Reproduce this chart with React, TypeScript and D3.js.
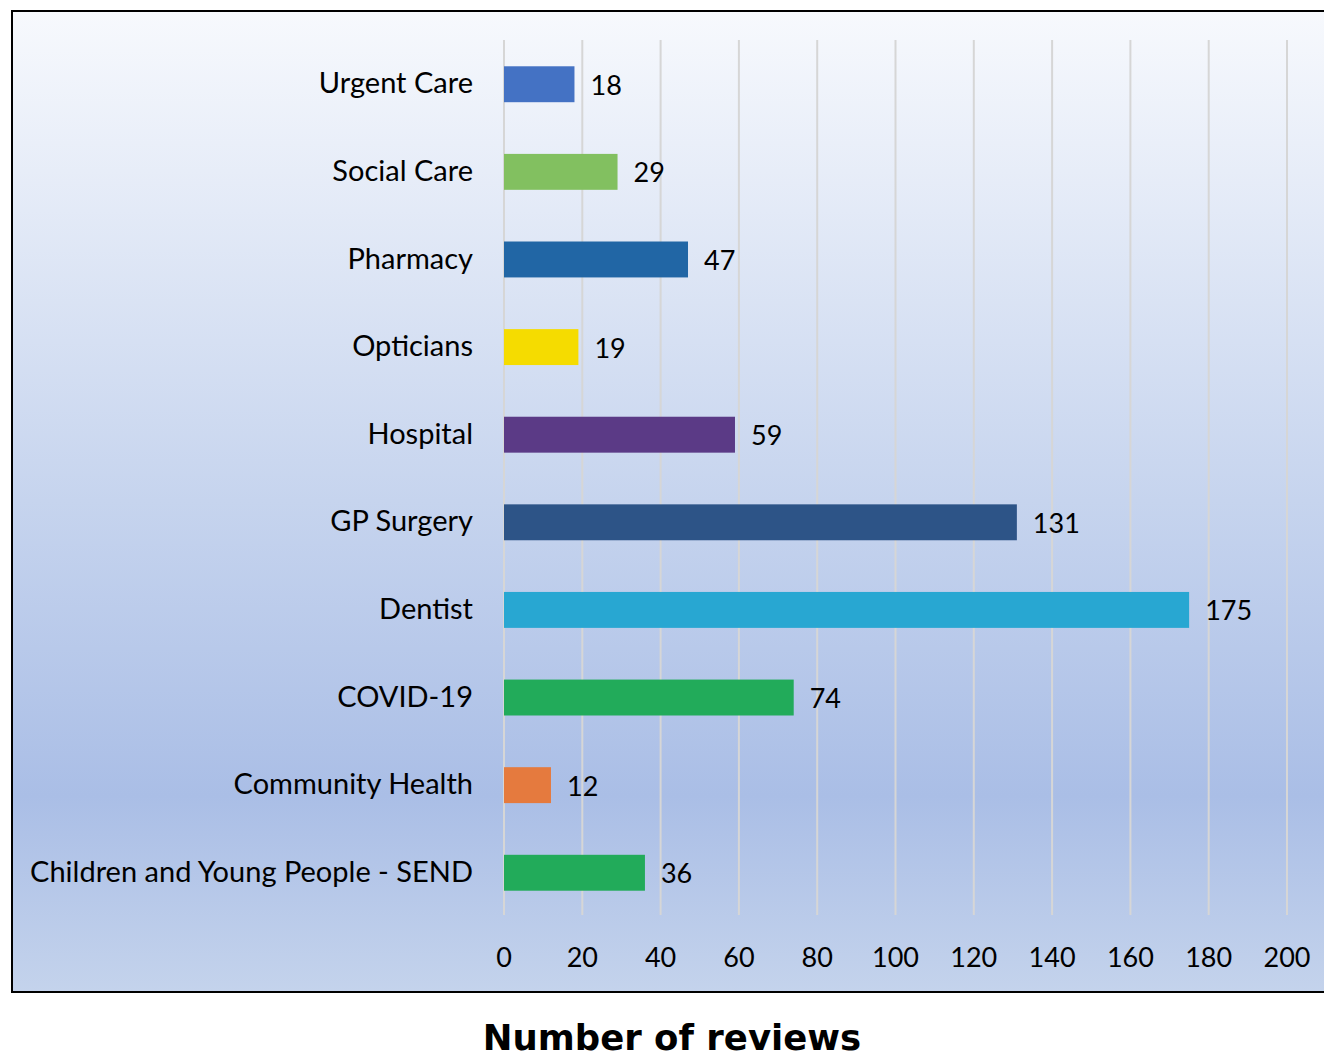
import { useMemo } from "react";
import * as d3 from "d3";

const categories = [
  "Urgent Care",
  "Social Care",
  "Pharmacy",
  "Opticians",
  "Hospital",
  "GP Surgery",
  "Dentist",
  "COVID-19",
  "Community Health",
  "Children and Young People - SEND",
];
const reviews = [18, 29, 47, 19, 59, 131, 175, 74, 12, 36];
const barColors = [
  "#4472c4",
  "#82c060",
  "#2166a5",
  "#f5dc00",
  "#5b3a86",
  "#2d5487",
  "#28a7d2",
  "#22ab5a",
  "#e57a3e",
  "#22ab5a",
];
const xTicks = [0, 20, 40, 60, 80, 100, 120, 140, 160, 180, 200];

const font = "Lato, 'Open Sans', sans-serif";

export default function App() {
  const width = 1324;
  const height = 1056;
  const x = useMemo(() => d3.scaleLinear().domain([0, 200]).range([504, 1287]), []);
  const y = useMemo(
    () => d3.scaleBand<string>().domain(categories).range([40, 917]).paddingInner(0.59).paddingOuter(0.3),
    []
  );

  return (
    <svg
      width={width}
      height={height}
      style={{ position: "absolute", left: 0, top: 0 }}
      fontFamily={font}
    >
      <defs>
        <linearGradient id="bg" x1="0" y1="0" x2="0" y2="1">
          <stop offset="0" stopColor="#f7f9fd" />
          <stop offset="0.5" stopColor="#c6d4ee" />
          <stop offset="0.8" stopColor="#aabee6" />
          <stop offset="1" stopColor="#c4d3ec" />
        </linearGradient>
      </defs>
      <rect x={0} y={0} width={width} height={height} fill="#ffffff" />
      <rect x={12} y={11} width={1330} height={981} fill="url(#bg)" stroke="#000" strokeWidth={2} />
      {xTicks.map((t) => (
        <line key={`g${t}`} x1={x(t)} x2={x(t)} y1={40} y2={915} stroke="#d6d6d6" strokeWidth={2} />
      ))}
      {categories.map((c, i) => {
        const by = y(c) ?? 0;
        const bh = y.bandwidth();
        const cy = by + bh / 2;
        return (
          <g key={c}>
            <rect x={x(0)} y={by} width={x(reviews[i]) - x(0)} height={bh} fill={barColors[i]} />
            <text x={473} y={cy - 1} dy="0.35em" textAnchor="end" fontSize={29} fill="#000">
              {c}
            </text>
            <text x={x(reviews[i]) + 16} y={cy + 1} dy="0.35em" textAnchor="start" fontSize={27} fill="#000">
              {reviews[i]}
            </text>
          </g>
        );
      })}
      {xTicks.map((t) => (
        <text key={`t${t}`} x={x(t)} y={958} dy="0.35em" textAnchor="middle" fontSize={27} fill="#000">
          {t}
        </text>
      ))}
      <text
        x={672}
        y={1050}
        textAnchor="middle"
        fontSize={35.5}
        fontWeight="bold"
        fontFamily="'DejaVu Sans', Verdana, sans-serif"
        fill="#000"
      >
        Number of reviews
      </text>
    </svg>
  );
}
